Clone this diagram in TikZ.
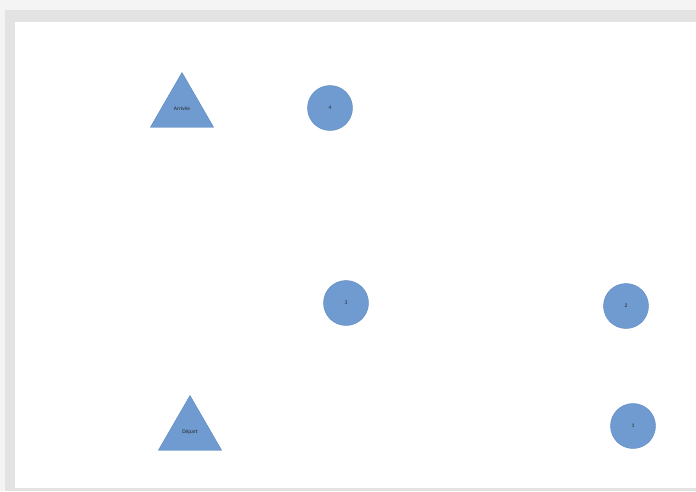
\documentclass[tikz,border=0pt]{standalone}
\usepackage{fontspec}
\setmainfont{Carlito}
\usepackage{tikz}
\usetikzlibrary{positioning,shapes.geometric}

\definecolor{pointblue}{HTML}{6F9BD1}
\definecolor{pointedge}{HTML}{5A86C0}
\definecolor{framegray}{HTML}{E3E3E3}
\definecolor{framelight}{HTML}{F4F4F4}

\begin{document}
\begin{tikzpicture}[
    x=1pt, y=-1pt,
    every node/.style={font=\fontsize{5.5}{6.5}\selectfont, text=black!85},
    waypoint/.style={circle, fill=pointblue, draw=pointedge, minimum size=45pt, inner sep=0pt},
    endpoint/.style={regular polygon, regular polygon sides=3, fill=pointblue, draw=pointedge, minimum size=73pt, inner sep=0pt}
]
% frame and sheet
\fill[framelight] (0,0) rectangle (696,491);
\fill[framegray] (5,10) rectangle (696,491);
\fill[white] (15,22) rectangle (696,488);
\useasboundingbox (0,0) rectangle (696,491);

% start and finish
\node[endpoint] (arrivee) at (182,109) {Arrivée};
\node[endpoint] (depart) at (190,432) {Départ};

% numbered points
\node[waypoint] (p4) at (330,108) {4};
\node[waypoint] (p3) at (346,303) {3};
\node[waypoint] (p2) at (626,306) {2};
\node[waypoint] (p1) at (633,426) {1};

\end{tikzpicture}
\end{document}
